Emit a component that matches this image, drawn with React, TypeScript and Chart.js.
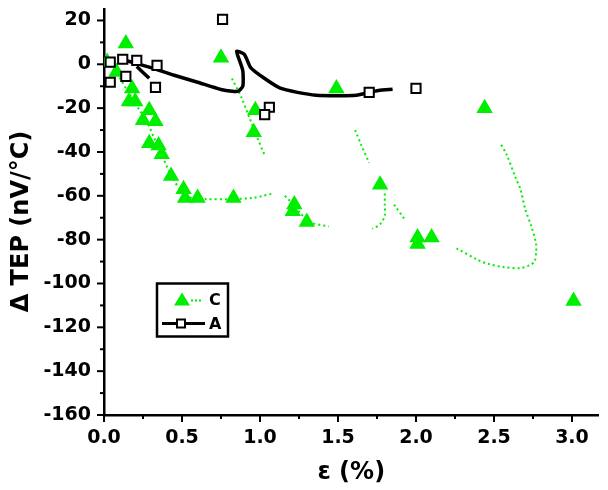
import React, { useEffect, useRef } from "react";
import { Chart, registerables } from "chart.js";

Chart.register(...registerables);

// Axis ticks
const xTickValues = [0, 0.5, 1.0, 1.5, 2.0, 2.5, 3.0];
const yTickValues = [20, 0, -20, -40, -60, -80, -100, -120, -140, -160];
const yTitle = "Δ TEP (nV/°C)";
const xTitle = "ε (%)";

// Series C: green triangles (strain %, ΔTEP nV/°C)
const cMarkerEps = [0.02, 0.14, 0.08, 0.18, 0.16, 0.2, 0.29, 0.25, 0.33, 0.29, 0.35, 0.37, 0.43, 0.51, 0.52, 0.6, 0.83, 0.75, 0.97, 0.96, 1.22, 1.21, 1.3, 1.49, 1.77, 2.01, 2.01, 2.1, 2.44, 3.01];
const cMarkerTep = [1, 9.5, -3.5, -11, -17, -17, -21, -25.5, -26, -36, -37, -41, -51, -57, -61, -61, -61, 3, -21, -31, -64, -67, -72, -11, -55, -79, -82, -79, -20, -108];

// Series C: dotted trace (null separates pieces)
const cTraceEps = [0.02, 0.08, 0.15, 0.22, 0.28, 0.33, 0.38, 0.44, 0.5, 0.56, 0.65, 0.8, 0.95, 1.02, 1.08, null,
  1.16, 1.2, 1.26, 1.32, 1.44, null,
  0.82, 0.88, 0.93, 0.98, 1.03, null,
  1.61, 1.65, 1.7, null,
  1.8, 1.8, 1.8, 1.77, 1.72, null,
  1.86, 1.93, null,
  2.26, 2.39, 2.46, 2.56, 2.67, 2.73, 2.76, 2.77, 2.77, 2.74, 2.7, 2.67, 2.64, 2.58, 2.54];
const cTraceTep = [1, -4, -12, -20, -27, -35, -43, -52, -58, -61, -61.5, -61.5, -61, -60, -59, null,
  -60, -63, -68, -72, -74, null,
  -6.5, -15, -24, -33, -41.5, null,
  -30, -37, -45, null,
  -59, -64, -69, -73, -75, null,
  -64, -71, null,
  -84, -89, -91, -92.5, -93, -91.6, -90, -86, -82, -74, -66, -57, -52, -41, -36];

// Series A: open squares
const aMarkerEps = [0.04, 0.12, 0.21, 0.34, 0.04, 0.14, 0.33, 0.76, 1.06, 1.03, 1.7, 2.0];
const aMarkerTep = [1, 2.3, 1.8, -0.5, -8.2, -5.5, -10.5, 20.5, -19.6, -23, -12.8, -11];

// Series A: continuous black curve
const aCurveEps = [0.15, 0.3, 0.45, 0.6, 0.75, 0.82, 0.86, 0.89, 0.89, 0.87, 0.85, 0.9, 0.94, 1.03, 1.13, 1.24, 1.36, 1.5, 1.62, 1.68, 1.76, 1.85, null, 0.21, 0.29];
const aCurveTep = [1.5, -1.5, -5, -8.2, -11.5, -12.3, -12.3, -10, -3, 1.5, 6, 4.5, -1.5, -6.5, -10.9, -12.8, -14.1, -14.3, -14.1, -13.2, -12, -11.4, null, -1, -6.4];

const GREEN = "rgb(0,238,0)";
const FONT = "'DejaVu Sans', 'Liberation Sans', Arial, sans-serif";

const zip = (xs: (number | null)[], ys: (number | null)[]) =>
  xs.map((x, i) => ({ x: x as number, y: ys[i] as number }));

const decorPlugin = {
  id: "decor",
  afterDraw(chart: any) {
    const { ctx, chartArea, scales } = chart;
    const xs = scales.x;
    const ys = scales.y;
    ctx.save();
    ctx.strokeStyle = "#000";
    ctx.lineWidth = 2;
    // x ticks (major 0.5, minor 0.25)
    for (let i = 0; i * 0.25 <= xs.max + 1e-9; i++) {
      const px = xs.getPixelForValue(i * 0.25);
      const len = i % 2 === 0 ? 7 : 4;
      ctx.beginPath();
      ctx.moveTo(px, chartArea.bottom);
      ctx.lineTo(px, chartArea.bottom + len);
      ctx.stroke();
    }
    // y ticks (major 20, minor 10)
    for (let v = -160; v <= ys.max + 1e-9; v += 10) {
      const py = ys.getPixelForValue(v);
      const len = v % 20 === 0 ? 7 : 4;
      ctx.beginPath();
      ctx.moveTo(chartArea.left, py);
      ctx.lineTo(chartArea.left - len, py);
      ctx.stroke();
    }
    // y axis title (rotated)
    ctx.save();
    ctx.translate(chartArea.left - 82, chartArea.top + 212);
    ctx.rotate(-Math.PI / 2);
    ctx.fillStyle = "#000";
    ctx.font = `bold 24px ${FONT}`;
    ctx.textAlign = "center";
    ctx.textBaseline = "middle";
    ctx.fillText(yTitle, 0, 0);
    ctx.restore();
    // legend box
    const lx = chartArea.left + 53;
    const ly = chartArea.top + 274;
    const lw = 71;
    const lh = 53;
    ctx.lineWidth = 2.5;
    ctx.strokeStyle = "#000";
    ctx.fillStyle = "#fff";
    ctx.fillRect(lx, ly, lw, lh);
    ctx.strokeRect(lx, ly, lw, lh);
    // row C
    const r1 = ly + 16;
    ctx.fillStyle = GREEN;
    ctx.beginPath();
    ctx.moveTo(lx + 25, r1 - 7);
    ctx.lineTo(lx + 33, r1 + 6);
    ctx.lineTo(lx + 17, r1 + 6);
    ctx.closePath();
    ctx.fill();
    ctx.strokeStyle = GREEN;
    ctx.lineWidth = 2;
    ctx.setLineDash([2, 2]);
    ctx.beginPath();
    ctx.moveTo(lx + 34, r1 + 1);
    ctx.lineTo(lx + 44, r1 + 1);
    ctx.stroke();
    ctx.setLineDash([]);
    // row A
    const r2 = ly + 40;
    ctx.strokeStyle = "#000";
    ctx.lineWidth = 3;
    ctx.beginPath();
    ctx.moveTo(lx + 5, r2);
    ctx.lineTo(lx + 48, r2);
    ctx.stroke();
    ctx.fillStyle = "#fff";
    ctx.lineWidth = 2;
    ctx.fillRect(lx + 20, r2 - 4, 8, 8);
    ctx.strokeRect(lx + 20, r2 - 4, 8, 8);
    // texts
    ctx.fillStyle = "#000";
    ctx.font = `bold 16px ${FONT}`;
    ctx.textAlign = "left";
    ctx.textBaseline = "middle";
    ctx.fillText("C", lx + 52, r1 + 1);
    ctx.fillText("A", lx + 52, r2 + 1);
    ctx.restore();
  },
};

const noScalePadding = (scale: any) => {
  scale.paddingTop = 0;
  scale.paddingBottom = 0;
  scale.paddingLeft = 0;
  scale.paddingRight = 0;
};

export default function App() {
  const ref = useRef<HTMLCanvasElement | null>(null);

  useEffect(() => {
    document.body.style.margin = "0";
    const canvas = ref.current;
    if (!canvas) return;
    const chart = new Chart(canvas, {
      type: "scatter",
      data: {
        datasets: [
          {
            label: "A",
            data: zip(aMarkerEps, aMarkerTep),
            showLine: false,
            pointStyle: "rect",
            pointRadius: 6.5,
            pointBorderWidth: 2,
            pointBorderColor: "#000",
            pointBackgroundColor: "#fff",
            order: 0,
          },
          {
            label: "C",
            data: zip(cMarkerEps, cMarkerTep),
            showLine: false,
            pointStyle: "triangle",
            pointRadius: 9.5,
            pointBorderWidth: 0,
            pointBorderColor: GREEN,
            pointBackgroundColor: GREEN,
            order: 1,
          },
          {
            label: "A curve",
            data: zip(aCurveEps, aCurveTep),
            showLine: true,
            spanGaps: false,
            borderColor: "#000",
            borderWidth: 3.5,
            pointRadius: 0,
            tension: 0.2,
            order: 2,
          },
          {
            label: "C trace",
            data: zip(cTraceEps, cTraceTep),
            showLine: true,
            spanGaps: false,
            borderColor: GREEN,
            borderWidth: 2,
            borderDash: [2, 3],
            pointRadius: 0,
            tension: 0.3,
            order: 3,
          },
        ],
      },
      options: {
        responsive: false,
        animation: false,
        layout: { padding: { top: 9, right: 0, left: 0, bottom: 0 } },
        plugins: {
          legend: { display: false },
          tooltip: { enabled: false },
        },
        scales: {
          x: {
            type: "linear",
            min: 0,
            max: 3.17,
            grid: { display: false, drawTicks: false },
            border: { display: true, color: "#000", width: 2.5 },
            afterBuildTicks: (scale: any) => {
              scale.ticks = xTickValues.map((v) => ({ value: v }));
            },
            afterFit: (scale: any) => {
              scale.height = 75;
              noScalePadding(scale);
            },
            ticks: {
              color: "#000",
              padding: 12,
              maxRotation: 0,
              autoSkip: false,
              font: { family: FONT, size: 19, weight: "bold" },
              callback: (v: any) => Number(v).toFixed(1),
            },
            title: {
              display: true,
              text: xTitle,
              color: "#000",
              font: { family: FONT, size: 24, weight: "bold" },
              padding: { top: 0, bottom: 3 },
            },
          },
          y: {
            type: "linear",
            min: -160,
            max: 25,
            grid: { display: false, drawTicks: false },
            border: { display: true, color: "#000", width: 2.5 },
            afterBuildTicks: (scale: any) => {
              scale.ticks = yTickValues.map((v) => ({ value: v }));
            },
            afterFit: (scale: any) => {
              scale.width = 104;
              noScalePadding(scale);
            },
            ticks: {
              color: "#000",
              padding: 13,
              autoSkip: false,
              font: { family: FONT, size: 19, weight: "bold" },
              callback: (v: any) => String(v),
            },
            title: { display: false },
          },
        },
      },
      plugins: [decorPlugin],
    });
    return () => chart.destroy();
  }, []);

  return (
    <div style={{ width: 608, height: 490 }}>
      <canvas ref={ref} width={608} height={490} />
    </div>
  );
}
